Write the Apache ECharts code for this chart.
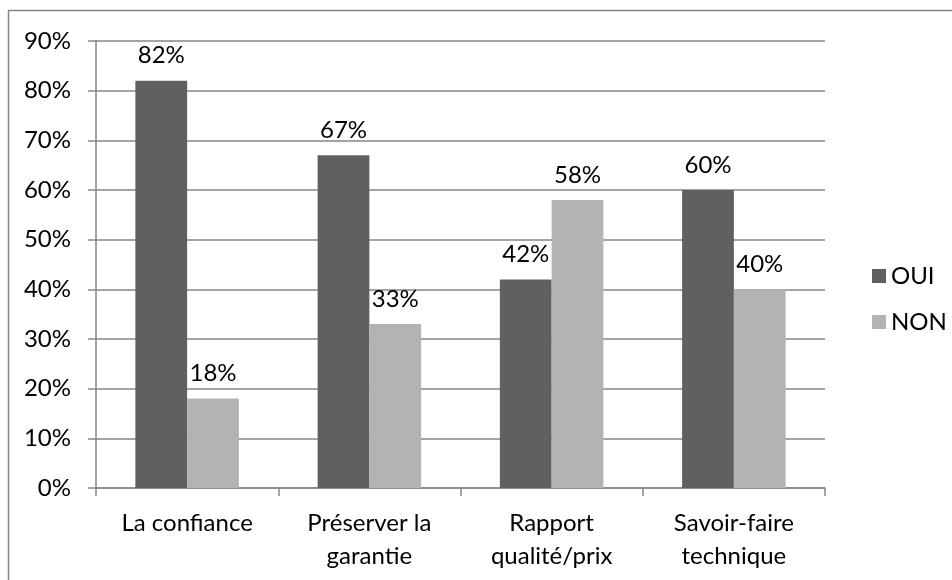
<!DOCTYPE html>
<html><head><meta charset="utf-8">
<script src="https://cdn.jsdelivr.net/npm/echarts@6/dist/echarts.min.js"></script>
<style>html,body{margin:0;padding:0;background:#fff}#c{width:952px;height:580px}</style>
</head><body><div id="c"></div>
<script>
const categories = ['La confiance', 'Préserver la\ngarantie', 'Rapport\nqualité/prix', 'Savoir-faire\ntechnique'];
const oui = [82, 67, 42, 60];
const non = [18, 33, 58, 40];
const seriesNames = ['OUI', 'NON'];
const FONT = 'Lato';
const FS = 24;
const chart = echarts.init(document.getElementById('c'), null, {renderer: 'canvas'});
const lbl = {show: true, position: 'top', distance: 13, formatter: p => p.value + '%', color: '#000', fontFamily: FONT, fontSize: FS};
chart.setOption({
  animation: false,
  graphic: [{type: 'rect', shape: {x: 8.5, y: 10.5, width: 1000, height: 1000}, style: {fill: 'none', stroke: '#868686', lineWidth: 1.5}, z: -1}],
  grid: {left: 96, right: 127, top: 41, bottom: 92, containLabel: false},
  legend: {orient: 'vertical', left: 867, top: 259, itemGap: 22, itemWidth: 14, itemHeight: 14, icon: 'rect',
    textStyle: {fontFamily: FONT, fontSize: FS, color: '#000'}, data: seriesNames},
  xAxis: {type: 'category', data: categories,
    axisLine: {lineStyle: {color: '#868686', width: 1.5}},
    axisTick: {show: true, length: 8, lineStyle: {color: '#868686', width: 1.5}, alignWithLabel: false},
    axisLabel: {margin: 19, color: '#000', fontFamily: FONT, fontSize: FS, lineHeight: 33, interval: 0}},
  yAxis: {type: 'value', min: 0, max: 90, interval: 10,
    axisLine: {show: true, lineStyle: {color: '#868686', width: 1.5}},
    axisTick: {show: true, length: 8, lineStyle: {color: '#868686', width: 1.5}},
    splitLine: {lineStyle: {color: '#868686', width: 1.5}},
    axisLabel: {margin: 25, formatter: '{value}%', color: '#000', fontFamily: FONT, fontSize: FS}},
  series: [
    {name: seriesNames[0], type: 'bar', data: oui, barWidth: '28.4%', barGap: '0%', itemStyle: {color: '#606060'}, label: lbl},
    {name: seriesNames[1], type: 'bar', data: non, barWidth: '28.4%', barGap: '0%', itemStyle: {color: '#b3b3b3'}, label: lbl}
  ]
});
</script></body></html>
